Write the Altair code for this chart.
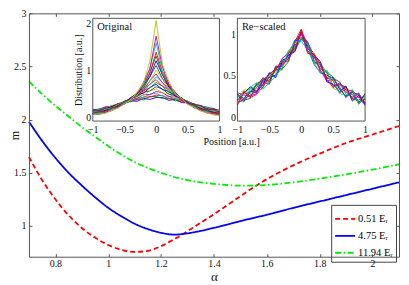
import altair as alt
import pandas as pd

# ---------------- main panel data ----------------
alpha = [0.70, 0.75, 0.80, 0.85, 0.90, 0.95, 1.00, 1.05, 1.10, 1.15, 1.20,
         1.25, 1.30, 1.35, 1.40, 1.45, 1.50, 1.60, 1.70, 1.80, 1.90, 2.00, 2.10]
m_051 = [1.65, 1.43, 1.25, 1.10, 0.98, 0.89, 0.82, 0.775, 0.755, 0.765, 0.81,
         0.875, 0.95, 1.03, 1.11, 1.195, 1.28, 1.44, 1.57, 1.68, 1.78, 1.86, 1.94]
m_475 = [1.98, 1.80, 1.64, 1.50, 1.38, 1.27, 1.17, 1.09, 1.02, 0.97, 0.935,
         0.918, 0.93, 0.953, 0.982, 1.013, 1.045, 1.105, 1.17, 1.23, 1.29, 1.35, 1.41]
m_1194 = [2.36, 2.24, 2.13, 2.03, 1.93, 1.84, 1.75, 1.67, 1.60, 1.545, 1.50,
          1.46, 1.43, 1.41, 1.395, 1.385, 1.378, 1.385, 1.41, 1.445, 1.485, 1.53, 1.58]
series_names = ["0.51 Eᵣ", "4.75 Eᵣ", "11.94 Eᵣ"]
series_colors = ["#ff0000", "#0000ff", "#00ee00"]
series_dashes = [[5, 3], [1, 0], [6, 2.5, 1.5, 2.5]]
x_ticks = [0.8, 1.0, 1.2, 1.4, 1.6, 1.8, 2.0]
y_ticks = [1.0, 1.5, 2.0, 2.5, 3.0]

# ---------------- inset data ----------------
pos = [-1.0, -0.9, -0.8, -0.7, -0.6, -0.5, -0.4, -0.3, -0.2, -0.1, 0.0,
       0.1, 0.2, 0.3, 0.4, 0.5, 0.6, 0.7, 0.8, 0.9, 1.0]
orig_color_codes = list("ymcrgbkymcrgbkymcrgb")
orig_curves = [
    [0.05, 0.07, 0.08, 0.15, 0.19, 0.29, 0.37, 0.53, 0.73, 1.18, 2.05, 1.12, 0.77, 0.50, 0.40, 0.27, 0.21, 0.13, 0.10, 0.05, 0.04],
    [0.06, 0.06, 0.11, 0.14, 0.22, 0.28, 0.41, 0.50, 0.74, 1.02, 1.72, 1.07, 0.70, 0.54, 0.37, 0.30, 0.20, 0.16, 0.09, 0.08, 0.04],
    [0.07, 0.09, 0.10, 0.17, 0.21, 0.31, 0.37, 0.53, 0.69, 1.03, 1.58, 0.98, 0.72, 0.49, 0.40, 0.28, 0.23, 0.15, 0.12, 0.07, 0.05],
    [0.08, 0.08, 0.13, 0.16, 0.24, 0.29, 0.40, 0.50, 0.70, 0.93, 1.38, 0.97, 0.66, 0.53, 0.38, 0.31, 0.22, 0.18, 0.11, 0.10, 0.06],
    [0.06, 0.11, 0.12, 0.19, 0.23, 0.32, 0.39, 0.52, 0.66, 0.94, 1.30, 0.90, 0.68, 0.49, 0.41, 0.30, 0.25, 0.17, 0.14, 0.09, 0.08],
    [0.09, 0.09, 0.15, 0.17, 0.25, 0.30, 0.42, 0.50, 0.68, 0.86, 1.20, 0.90, 0.64, 0.52, 0.39, 0.32, 0.23, 0.19, 0.13, 0.11, 0.07],
    [0.07, 0.12, 0.14, 0.20, 0.24, 0.33, 0.39, 0.51, 0.62, 0.86, 1.10, 0.82, 0.66, 0.49, 0.41, 0.31, 0.26, 0.18, 0.16, 0.10, 0.09],
    [0.10, 0.11, 0.16, 0.19, 0.26, 0.31, 0.41, 0.48, 0.64, 0.77, 1.00, 0.81, 0.60, 0.50, 0.39, 0.33, 0.24, 0.21, 0.14, 0.13, 0.08],
    [0.08, 0.13, 0.15, 0.21, 0.25, 0.33, 0.39, 0.50, 0.58, 0.77, 0.92, 0.73, 0.62, 0.48, 0.41, 0.31, 0.27, 0.19, 0.17, 0.11, 0.10],
    [0.11, 0.12, 0.17, 0.20, 0.27, 0.32, 0.41, 0.47, 0.61, 0.70, 0.86, 0.74, 0.57, 0.49, 0.39, 0.34, 0.25, 0.22, 0.15, 0.14, 0.09],
    [0.09, 0.14, 0.16, 0.22, 0.26, 0.34, 0.39, 0.49, 0.55, 0.70, 0.80, 0.66, 0.59, 0.47, 0.41, 0.32, 0.28, 0.20, 0.18, 0.12, 0.11],
    [0.12, 0.13, 0.18, 0.21, 0.28, 0.32, 0.41, 0.46, 0.57, 0.62, 0.74, 0.66, 0.53, 0.48, 0.39, 0.34, 0.26, 0.23, 0.16, 0.15, 0.10],
    [0.10, 0.15, 0.17, 0.23, 0.26, 0.34, 0.38, 0.48, 0.51, 0.63, 0.70, 0.59, 0.55, 0.45, 0.40, 0.32, 0.28, 0.21, 0.19, 0.13, 0.12],
    [0.13, 0.14, 0.19, 0.22, 0.29, 0.32, 0.40, 0.44, 0.53, 0.56, 0.65, 0.60, 0.49, 0.46, 0.38, 0.34, 0.27, 0.24, 0.17, 0.16, 0.11],
    [0.11, 0.16, 0.18, 0.24, 0.27, 0.34, 0.37, 0.45, 0.46, 0.56, 0.60, 0.52, 0.50, 0.41, 0.39, 0.32, 0.29, 0.22, 0.20, 0.14, 0.13],
    [0.14, 0.15, 0.20, 0.22, 0.29, 0.31, 0.38, 0.40, 0.48, 0.48, 0.55, 0.52, 0.44, 0.43, 0.36, 0.33, 0.27, 0.25, 0.18, 0.17, 0.12],
    [0.12, 0.17, 0.19, 0.25, 0.27, 0.33, 0.35, 0.41, 0.42, 0.49, 0.51, 0.45, 0.45, 0.38, 0.37, 0.31, 0.29, 0.23, 0.21, 0.15, 0.14],
    [0.15, 0.16, 0.21, 0.23, 0.29, 0.30, 0.36, 0.37, 0.43, 0.43, 0.47, 0.46, 0.39, 0.40, 0.33, 0.32, 0.27, 0.25, 0.19, 0.18, 0.13],
    [0.13, 0.18, 0.19, 0.25, 0.26, 0.32, 0.33, 0.39, 0.37, 0.44, 0.44, 0.40, 0.41, 0.35, 0.35, 0.29, 0.28, 0.23, 0.22, 0.16, 0.15],
    [0.16, 0.17, 0.22, 0.23, 0.28, 0.29, 0.35, 0.34, 0.40, 0.38, 0.42, 0.42, 0.36, 0.38, 0.31, 0.31, 0.26, 0.25, 0.20, 0.19, 0.14],
]
resc_color_codes = list("bgrcmykbgrcm")
resc_curves = [
    [0.28, 0.23, 0.32, 0.30, 0.45, 0.48, 0.51, 0.69, 0.72, 0.89, 1.02, 0.79, 0.73, 0.64, 0.47, 0.48, 0.34, 0.26, 0.30, 0.28, 0.17],
    [0.15, 0.30, 0.29, 0.40, 0.38, 0.53, 0.57, 0.59, 0.78, 0.80, 0.95, 0.89, 0.67, 0.61, 0.55, 0.38, 0.39, 0.37, 0.22, 0.21, 0.27],
    [0.24, 0.32, 0.25, 0.36, 0.48, 0.43, 0.60, 0.65, 0.68, 0.91, 1.06, 0.86, 0.77, 0.55, 0.49, 0.44, 0.30, 0.34, 0.32, 0.17, 0.23],
    [0.19, 0.20, 0.35, 0.38, 0.36, 0.50, 0.49, 0.70, 0.79, 0.84, 0.92, 0.81, 0.65, 0.66, 0.53, 0.37, 0.41, 0.28, 0.25, 0.30, 0.14],
    [0.30, 0.27, 0.26, 0.29, 0.43, 0.40, 0.62, 0.61, 0.76, 0.93, 1.00, 0.91, 0.74, 0.57, 0.44, 0.46, 0.37, 0.24, 0.33, 0.24, 0.25],
    [0.17, 0.33, 0.34, 0.33, 0.35, 0.52, 0.54, 0.57, 0.81, 0.81, 1.04, 0.78, 0.78, 0.62, 0.56, 0.35, 0.32, 0.35, 0.21, 0.26, 0.19],
    [0.26, 0.21, 0.23, 0.41, 0.44, 0.45, 0.58, 0.67, 0.70, 0.87, 0.94, 0.87, 0.64, 0.54, 0.51, 0.47, 0.43, 0.30, 0.28, 0.17, 0.29],
    [0.21, 0.29, 0.37, 0.31, 0.40, 0.54, 0.48, 0.66, 0.75, 0.79, 1.03, 0.83, 0.75, 0.67, 0.43, 0.40, 0.31, 0.38, 0.20, 0.27, 0.16],
    [0.29, 0.19, 0.31, 0.39, 0.47, 0.41, 0.61, 0.58, 0.67, 0.92, 0.96, 0.90, 0.69, 0.59, 0.54, 0.49, 0.35, 0.25, 0.31, 0.19, 0.22],
    [0.16, 0.31, 0.24, 0.28, 0.37, 0.49, 0.56, 0.71, 0.77, 0.83, 1.05, 0.77, 0.76, 0.65, 0.46, 0.36, 0.42, 0.33, 0.24, 0.29, 0.18],
    [0.25, 0.28, 0.36, 0.42, 0.34, 0.42, 0.50, 0.60, 0.80, 0.90, 0.93, 0.88, 0.66, 0.53, 0.57, 0.45, 0.29, 0.27, 0.34, 0.16, 0.26],
    [0.18, 0.22, 0.27, 0.32, 0.46, 0.51, 0.59, 0.63, 0.71, 0.82, 1.01, 0.80, 0.72, 0.63, 0.45, 0.39, 0.40, 0.36, 0.23, 0.25, 0.15],
]
inset_x_ticks = [-1.0, -0.5, 0.0, 0.5, 1.0]
orig_y_ticks = [0, 1, 2]
resc_y_ticks = [0, 0.5, 1]

CMAP = {"b": "#0000ff", "g": "#008000", "r": "#ff0000", "c": "#00bfbf",
        "m": "#bf00bf", "y": "#bfbf00", "k": "#404040"}

# ---------------- frames ----------------
main_rows = []
for name, vals in zip(series_names, [m_051, m_475, m_1194]):
    for a, v in zip(alpha, vals):
        main_rows.append({"alpha": a, "m": v, "series": name})
main_df = pd.DataFrame(main_rows)


def long_df(curves, codes, tag):
    rows = []
    for i, (vals, code) in enumerate(zip(curves, codes)):
        for p, v in zip(pos, vals):
            rows.append({"pos": p, "val": v, "curve": f"{tag}{i:02d}", "col": CMAP[code]})
    return pd.DataFrame(rows)


orig_df = long_df(orig_curves[::-1], orig_color_codes[::-1], "o")
resc_df = long_df(resc_curves, resc_color_codes, "r")

# ---------------- layout ----------------
W, H = 371, 244
IN1_X = [64, 191]
IN2_X = [209, 337]
IN_Y = [108, 5]
IN_XDOM = [-1.0, 1.0]
IN1_YDOM = [-0.08, 2.1]
IN2_YDOM = [-0.04, 1.19]
SERIF = "Liberation Serif, Times New Roman, DejaVu Serif, serif"

AX = dict(grid=False, domainColor="#555555", tickColor="#555555", labelColor="#111111",
          labelFont=SERIF, titleFont=SERIF, titleColor="#111111", labelFontSize=10,
          titleFontWeight="normal", zindex=1, labelFlush=False)

X_MAIN = alt.Scale(domain=[0.7, 2.1], zero=False, nice=False)
Y_MAIN = alt.Scale(domain=[0.71, 3.0], zero=False, nice=False)

leg = alt.Legend(orient="none", legendX=303, legendY=192, title=None,
                 symbolType="stroke", symbolSize=400, symbolStrokeWidth=1.8,
                 labelFont=SERIF, labelFontSize=10.5, labelColor="#000000",
                 fillColor="white", strokeColor="#444444", padding=3,
                 rowPadding=0, labelOffset=2)

main_lines = alt.Chart(main_df).mark_line(strokeWidth=1.8, interpolate="monotone").encode(
    x=alt.X("alpha:Q", scale=X_MAIN,
            axis=alt.Axis(orient="bottom", values=x_ticks, format="~g", tickSize=0,
                          labelPadding=2, title="α", titleFontSize=13, titleY=24,
                          titleBaseline="alphabetic", **AX)),
    y=alt.Y("m:Q", scale=Y_MAIN,
            axis=alt.Axis(orient="left", values=y_ticks, format="~g", tickSize=0,
                          labelPadding=3, title="m", titleFontSize=12, titleX=-10,
                          titleBaseline="alphabetic", **AX)),
    color=alt.Color("series:N", scale=alt.Scale(domain=series_names, range=series_colors), legend=leg),
    strokeDash=alt.StrokeDash("series:N", scale=alt.Scale(domain=series_names, range=series_dashes), legend=leg),
)

ticks_a = alt.Chart(main_df).mark_line(opacity=0).encode(
    x=alt.X("alpha:Q", scale=X_MAIN,
            axis=alt.Axis(orient="top", offset=-H, values=x_ticks, labels=False,
                          domain=False, tickSize=3, title=None, **AX)),
    y=alt.Y("m:Q", scale=Y_MAIN,
            axis=alt.Axis(orient="right", offset=-W, values=y_ticks, labels=False,
                          domain=False, tickSize=3, title=None, **AX)),
)
ticks_b = alt.Chart(main_df).mark_line(opacity=0).encode(
    x=alt.X("alpha:Q", scale=X_MAIN,
            axis=alt.Axis(orient="bottom", offset=-H, values=x_ticks, labels=False,
                          domain=True, tickSize=3, title=None, **AX)),
    y=alt.Y("m:Q", scale=Y_MAIN,
            axis=alt.Axis(orient="left", offset=-W, values=y_ticks, labels=False,
                          domain=True, tickSize=3, title=None, **AX)),
)


def inset(df, xr, ydom, yticks, title_text, label_text, xtitle):
    xs = alt.Scale(domain=IN_XDOM, range=xr, zero=False, nice=False)
    ys = alt.Scale(domain=ydom, range=IN_Y, zero=False, nice=False)
    fdf = pd.DataFrame({"x1": [IN_XDOM[0]], "x2": [IN_XDOM[1]], "y1": [ydom[0]], "y2": [ydom[1]]})
    frame = alt.Chart(fdf).mark_rect(fill="white", stroke="#555555", strokeWidth=1).encode(
        x=alt.X("x1:Q", scale=xs, axis=None), x2="x2:Q",
        y=alt.Y("y1:Q", scale=ys, axis=None), y2="y2:Q",
    )
    xaxis_kw = dict(orient="bottom", offset=-(H - IN_Y[0]), values=inset_x_ticks, format="~g",
                    tickSize=0, labelPadding=3, domain=False, labelOverlap=False, **AX)
    if xtitle:
        xaxis_kw.update(title=xtitle, titleFontSize=10, titleX=202.7, titleY=23,
                        titleBaseline="alphabetic")
    else:
        xaxis_kw.update(title=None)
    yaxis_kw = dict(orient="left", offset=-xr[0], values=yticks, format="~g", tickSize=0,
                    labelPadding=2, domain=False, labelOverlap=False, **AX)
    if title_text:
        yaxis_kw.update(title=title_text, titleFontSize=10, titleX=-11,
                        titleBaseline="alphabetic")
    else:
        yaxis_kw.update(title=None)
    lines = alt.Chart(df).mark_line(strokeWidth=0.9, clip=True).encode(
        x=alt.X("pos:Q", scale=xs, axis=alt.Axis(**xaxis_kw)),
        y=alt.Y("val:Q", scale=ys, axis=alt.Axis(**yaxis_kw)),
        color=alt.Color("col:N", scale=None),
        detail="curve:N",
    )
    ldf = pd.DataFrame({"x": [IN_XDOM[0] + 0.07], "y": [ydom[0] + 0.92 * (ydom[1] - ydom[0])], "t": [label_text]})
    label = alt.Chart(ldf).mark_text(align="left", baseline="middle", font=SERIF,
                                     fontSize=10.5, color="#111111").encode(
        x=alt.X("x:Q", scale=xs, axis=None),
        y=alt.Y("y:Q", scale=ys, axis=None),
        text="t:N",
    )
    return [frame, lines, label]


inset1 = inset(orig_df, IN1_X, IN1_YDOM, orig_y_ticks, "Distribution [a.u.]", "Original", "Position [a.u.]")
inset2 = inset(resc_df, IN2_X, IN2_YDOM, resc_y_ticks, None, "Re−scaled", None)

chart = alt.layer(main_lines, ticks_a, ticks_b, *inset1, *inset2).resolve_scale(
    x="independent", y="independent", color="independent", strokeDash="independent"
).properties(
    width=W, height=H,
    padding={"left": 21, "top": 5, "right": 2, "bottom": 28},
    autosize=alt.AutoSizeParams(type="none"),
    background="white",
).configure_view(stroke=None)

chart.save("out.html", embed_options={"renderer": "svg", "actions": False})
